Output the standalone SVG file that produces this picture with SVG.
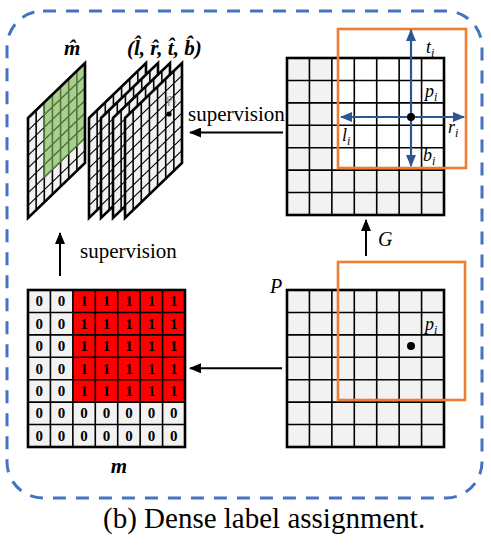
<svg xmlns="http://www.w3.org/2000/svg" xmlns:xlink="http://www.w3.org/1999/xlink" width="491" height="547" viewBox="0 0 491 547">
<style>
.gl{fill:none;stroke:#000;stroke-width:1.6}
.gb{fill:none;stroke:#000;stroke-width:2.6}
.sk{vector-effect:non-scaling-stroke}
.lbl{font-family:"Liberation Serif",serif;fill:#000}
.it{font-style:italic}
.bi{font-style:italic;font-weight:bold}
.num{font-family:"Liberation Serif",serif;font-weight:bold;font-size:15px;text-anchor:middle}
.conn{stroke:#000;stroke-width:2;fill:none}
.cross{stroke:#2F5597;stroke-width:2.2;fill:none}
.orange{fill:none;stroke:#ED7D31;stroke-width:2.6}
</style>
<defs>
<marker id="ah" markerUnits="userSpaceOnUse" markerWidth="12" markerHeight="10" refX="11" refY="5" orient="auto">
<path d="M0,0 L12,5 L0,10 z" fill="#000"/>
</marker>
<marker id="bh" markerUnits="userSpaceOnUse" markerWidth="12" markerHeight="10" refX="11" refY="5" orient="auto-start-reverse">
<path d="M0,0 L12,5 L0,10 z" fill="#2F5597"/>
</marker>
<path id="g7lines" d="M0,22.43H157M0,44.86H157M0,67.29H157M0,89.71H157M0,112.14H157M0,134.57H157M22.43,0V157M44.86,0V157M67.29,0V157M89.71,0V157M112.14,0V157M134.57,0V157"/>
<path id="plines" d="M0,12.5H57M0,25H57M0,37.5H57M0,50H57M0,62.5H57M0,75H57M0,87.5H57M8.14,0V100M16.29,0V100M24.43,0V100M32.57,0V100M40.71,0V100M48.86,0V100"/>
<g id="pgrid">
<rect x="0" y="0" width="57" height="100" fill="#F2F2F2"/>
<use xlink:href="#plines" class="gl sk"/>
<rect x="0" y="0" width="57" height="100" class="gb sk"/>
</g>
</defs>

<!-- dashed frame -->
<rect x="7" y="11" width="475" height="487" rx="36" fill="none" stroke="#4472C4" stroke-width="3" stroke-dasharray="13,10"/>

<!-- node: m-hat grid -->
<g id="mhat">
<g transform="matrix(1,-0.965,0,1,28,118)">
<rect x="0" y="0" width="57" height="100" fill="#F2F2F2"/>
<use xlink:href="#plines" class="gl sk"/>
<rect x="16.29" y="0" width="40.71" height="75" fill="#A9D18E"/>
<path d="M16.29,12.5H57M16.29,25H57M16.29,37.5H57M16.29,50H57M16.29,62.5H57M24.43,0V75M32.57,0V75M40.71,0V75M48.86,0V75M16.29,0V75H57" fill="none" stroke="#55743F" stroke-width="1.6" class="sk"/>
<rect x="0" y="0" width="57" height="100" class="gb sk"/>
</g>
<text x="64" y="55" class="lbl bi" font-size="21">m̂</text>
</g>

<!-- node: (l,r,t,b) stack -->
<g id="ltrb">
<use xlink:href="#pgrid" transform="matrix(1,-0.965,0,1,89,118)"/>
<use xlink:href="#pgrid" transform="matrix(1,-0.965,0,1,101,118)"/>
<use xlink:href="#pgrid" transform="matrix(1,-0.965,0,1,113,118)"/>
<use xlink:href="#pgrid" transform="matrix(1,-0.965,0,1,125,118)"/>
<circle cx="169" cy="114" r="2.6" fill="#000"/>
<text x="166" y="102" class="lbl it" font-size="13" style="fill:#8a8a8a" transform="rotate(-20 170 98)">p<tspan font-size="8" dy="3">i</tspan></text>
<text x="127" y="55" class="lbl bi" font-size="21">(l̂, r̂, t̂, b̂)</text>
</g>

<!-- node: G grid (top right) -->
<g id="Ggrid">
<rect x="287" y="58" width="157" height="157" fill="#F2F2F2"/>
<rect x="331.86" y="58" width="112.14" height="112.14" fill="#FFFFFF"/>
<use xlink:href="#g7lines" x="287" y="58" class="gl"/>
<rect x="287" y="58" width="157" height="157" class="gb"/>
<rect x="338" y="29" width="128" height="139" class="orange"/>
<line x1="411" y1="30" x2="411" y2="166" class="cross" marker-start="url(#bh)" marker-end="url(#bh)"/>
<line x1="341" y1="117" x2="464" y2="117" class="cross" marker-start="url(#bh)" marker-end="url(#bh)"/>
<circle cx="411" cy="117" r="4" fill="#000"/>
<text x="426" y="53" class="lbl it" font-size="18">t<tspan font-size="12" dy="4">i</tspan></text>
<text x="425" y="97" class="lbl it" font-size="18">p<tspan font-size="12" dy="4">i</tspan></text>
<text x="342" y="141" class="lbl it" font-size="18">l<tspan font-size="12" dy="4">i</tspan></text>
<text x="448" y="133" class="lbl it" font-size="18">r<tspan font-size="12" dy="4">i</tspan></text>
<text x="423" y="161" class="lbl it" font-size="18">b<tspan font-size="12" dy="4">i</tspan></text>
</g>

<!-- node: P grid (bottom right) -->
<g id="Pgrid">
<rect x="287" y="290" width="157" height="157" fill="#F2F2F2"/>
<use xlink:href="#g7lines" x="287" y="290" class="gl"/>
<rect x="287" y="290" width="157" height="157" class="gb"/>
<rect x="338" y="262" width="127" height="138" class="orange"/>
<circle cx="411" cy="346" r="4" fill="#000"/>
<text x="425" y="330" class="lbl it" font-size="18">p<tspan font-size="12" dy="4">i</tspan></text>
<text x="270" y="293" class="lbl it" font-size="20">P</text>
</g>

<!-- node: m grid (bottom left) -->
<g id="mgrid">
<rect x="28" y="290" width="157" height="157" fill="#F2F2F2"/>
<rect x="72.86" y="290" width="112.14" height="112.14" fill="#FF0000"/>
<use xlink:href="#g7lines" x="28" y="290" class="gl"/>
<rect x="28" y="290" width="157" height="157" class="gb"/>
<g class="num">
<text x="39.2" y="306.2">0</text><text x="61.6" y="306.2">0</text><text x="84.1" y="306.2">1</text><text x="106.5" y="306.2">1</text><text x="128.9" y="306.2">1</text><text x="151.4" y="306.2">1</text><text x="173.8" y="306.2">1</text>
<text x="39.2" y="328.6">0</text><text x="61.6" y="328.6">0</text><text x="84.1" y="328.6">1</text><text x="106.5" y="328.6">1</text><text x="128.9" y="328.6">1</text><text x="151.4" y="328.6">1</text><text x="173.8" y="328.6">1</text>
<text x="39.2" y="351.1">0</text><text x="61.6" y="351.1">0</text><text x="84.1" y="351.1">1</text><text x="106.5" y="351.1">1</text><text x="128.9" y="351.1">1</text><text x="151.4" y="351.1">1</text><text x="173.8" y="351.1">1</text>
<text x="39.2" y="373.5">0</text><text x="61.6" y="373.5">0</text><text x="84.1" y="373.5">1</text><text x="106.5" y="373.5">1</text><text x="128.9" y="373.5">1</text><text x="151.4" y="373.5">1</text><text x="173.8" y="373.5">1</text>
<text x="39.2" y="395.9">0</text><text x="61.6" y="395.9">0</text><text x="84.1" y="395.9">1</text><text x="106.5" y="395.9">1</text><text x="128.9" y="395.9">1</text><text x="151.4" y="395.9">1</text><text x="173.8" y="395.9">1</text>
<text x="39.2" y="418.4">0</text><text x="61.6" y="418.4">0</text><text x="84.1" y="418.4">0</text><text x="106.5" y="418.4">0</text><text x="128.9" y="418.4">0</text><text x="151.4" y="418.4">0</text><text x="173.8" y="418.4">0</text>
<text x="39.2" y="440.8">0</text><text x="61.6" y="440.8">0</text><text x="84.1" y="440.8">0</text><text x="106.5" y="440.8">0</text><text x="128.9" y="440.8">0</text><text x="151.4" y="440.8">0</text><text x="173.8" y="440.8">0</text>
</g>
<text x="119" y="473" class="lbl bi" font-size="21" text-anchor="middle">m</text>
</g>

<!-- connectors -->
<g id="connectors">
<line x1="283" y1="132.5" x2="190" y2="132.5" class="conn" marker-end="url(#ah)"/>
<line x1="60" y1="276" x2="60" y2="233" class="conn" marker-end="url(#ah)"/>
<line x1="366" y1="256" x2="366" y2="220" class="conn" marker-end="url(#ah)"/>
<line x1="282" y1="368.3" x2="190" y2="368.3" class="conn" marker-end="url(#ah)"/>
<text x="188" y="121" class="lbl" font-size="21">supervision</text>
<text x="80" y="258" class="lbl" font-size="21">supervision</text>
<text x="378" y="246" class="lbl it" font-size="20">G</text>
</g>

<text x="103" y="528" class="lbl" font-size="29">(b) Dense label assignment.</text>
</svg>
